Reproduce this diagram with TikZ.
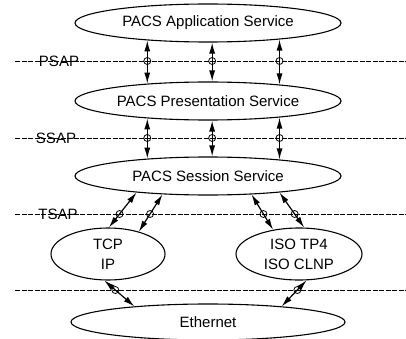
\documentclass[tikz,border=0pt]{standalone}
\usepackage{fontspec}
\setmainfont{Liberation Sans}
\usetikzlibrary{shapes.geometric,arrows.meta}

\begin{document}
\begin{tikzpicture}[x=1pt,y=-1pt,
  service/.style={draw, ellipse, line width=1.1pt, inner sep=0pt,
    font=\fontsize{15}{20}\selectfont, align=center},
  sap/.style={line width=0.7pt, dash pattern=on 5pt off 1.5pt},
  saplabel/.style={inner sep=0pt, font=\fontsize{15}{17}\selectfont},
  flow/.style={line width=1.2pt, {Latex[length=11pt,width=6pt]}-{Latex[length=11pt,width=6pt]}},
  tap/.style={draw, circle, line width=0.8pt, minimum size=7pt, inner sep=0pt}]
\useasboundingbox (0,0) rectangle (406,339);

% service access point boundaries
\coordinate (psapL) at (15,61);  \coordinate (psapR) at (406,61);
\coordinate (ssapL) at (15,138); \coordinate (ssapR) at (406,138);
\coordinate (tsapL) at (15,214); \coordinate (tsapR) at (406,214);
\coordinate (lowL)  at (15,290); \coordinate (lowR)  at (406,290);
\draw[sap] (psapL) -- (psapR);
\draw[sap] (ssapL) -- (ssapR);
\draw[sap] (tsapL) -- (tsapR);
\draw[sap] (lowL) -- (lowR);
\node[saplabel] (psap) at (59,61) {PSAP};
\node[saplabel] (ssap) at (56,138) {SSAP};
\node[saplabel] (tsap) at (58,214) {TSAP};

% protocol layers
\node[service, minimum width=266pt, minimum height=38pt] (app)  at (208,23)  {PACS Application Service};
\node[service, minimum width=266pt, minimum height=38pt] (pres) at (208,101) {PACS Presentation Service};
\node[service, minimum width=266pt, minimum height=38pt] (sess) at (208,176) {PACS Session Service};
\node[service, minimum width=114pt, minimum height=52pt] (tcp)  at (108,254) {TCP\\IP};
\node[service, minimum width=126pt, minimum height=52pt] (iso)  at (299,254) {ISO TP4\\ISO CLNP};
\node[service, minimum width=274pt, minimum height=36pt] (eth)  at (208,322) {Ethernet};

% application <-> presentation
\draw[flow] (app.-164.2) -- (pres.164.2);
\draw[flow] (app.-78.1)  -- (pres.78.1);
\draw[flow] (app.-13.8)  -- (pres.13.8);
\node[tap] (p1) at (app.-164.2 |- psapL) {};
\node[tap] (p2) at (app.-78.1 |- psapL) {};
\node[tap] (p3) at (app.-13.8 |- psapL) {};

% presentation <-> session
\draw[flow] (pres.-164.2) -- (sess.164.2);
\draw[flow] (pres.-78.1)  -- (sess.78.1);
\draw[flow] (pres.-13.8)  -- (sess.13.8);
\node[tap] (s1) at (pres.-164.2 |- ssapL) {};
\node[tap] (s2) at (pres.-78.1 |- ssapL) {};
\node[tap] (s3) at (pres.-13.8 |- ssapL) {};

% session <-> transport
\draw[flow] (sess.-167.9) -- (tcp.88);
\draw[flow] (sess.-158.8) -- (tcp.36.4);
\draw[flow] (sess.-23.2)  -- (iso.137.6);
\draw[flow] (sess.-13.0)  -- (iso.79);
\node[tap] (t1) at (intersection of sess.-167.9--tcp.88 and tsapL--tsapR) {};
\node[tap] (t2) at (intersection of sess.-158.8--tcp.36.4 and tsapL--tsapR) {};
\node[tap] (t3) at (intersection of sess.-23.2--iso.137.6 and tsapL--tsapR) {};
\node[tap] (t4) at (intersection of sess.-13.0--iso.79 and tsapL--tsapR) {};

% transport <-> ethernet
\draw[flow] (tcp.-98.7) -- (eth.168.2);
\draw[flow] (iso.-74.8) -- (eth.12.5);
\node[tap] (e1) at (intersection of tcp.-98.7--eth.168.2 and lowL--lowR) {};
\node[tap] (e2) at (intersection of iso.-74.8--eth.12.5 and lowL--lowR) {};
\end{tikzpicture}
\end{document}
